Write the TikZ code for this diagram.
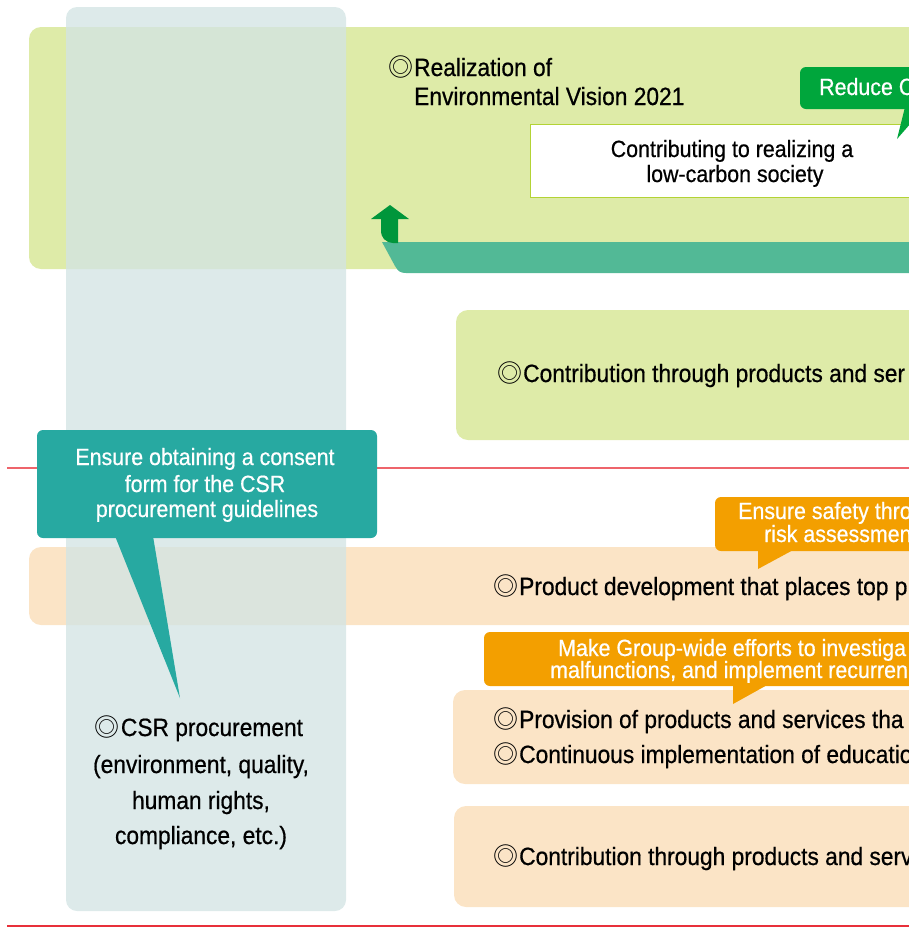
\documentclass[tikz,border=0pt]{standalone}
\usepackage{fontspec}
\setmainfont{Liberation Sans}[FakeStretch=0.91,FakeBold=0.6]
\newfontfamily\symfont{Noto Sans CJK JP}
\newcommand\dcirc{\makebox[26pt][l]{\symfont\fontsize{25}{25}\selectfont ◎}}
\definecolor{bandgreen}{HTML}{DEEBA8}
\definecolor{bandorange}{HTML}{FBE4C6}
\definecolor{calteal}{HTML}{27A9A1}
\definecolor{calorange}{HTML}{F39F00}
\definecolor{calgreen}{HTML}{00A63C}
\definecolor{arrowgreen}{HTML}{00963B}
\definecolor{bandteal}{HTML}{52B996}
\definecolor{boxline}{HTML}{B3D335}
\definecolor{colblue}{HTML}{D3E4E4}
\definecolor{redline}{HTML}{E8303A}
\begin{document}
\begin{tikzpicture}[x=1pt,y=-1pt,
  band/.style={rounded corners=12pt},
  btxt/.style={anchor=base west, inner sep=0pt, font=\fontsize{25}{30}\selectfont},
  ctxt/.style={anchor=base, inner sep=0pt, font=\fontsize{25}{30}\selectfont},
  wtxt/.style={anchor=base, inner sep=0pt, text=white, font=\fontsize{23.5}{28}\selectfont},
  wltxt/.style={anchor=base west, inner sep=0pt, text=white, font=\fontsize{23.5}{28}\selectfont},
  callout/.style={rounded corners=6pt}]
\useasboundingbox (0,0) rectangle (909,930);
\clip (0,0) rectangle (909,930);

% red rules
\draw[redline!75, line width=1.2pt] (7,468) -- (909,468);
\draw[redline, line width=1.5pt] (7,926) -- (909,926);

% top green band
\fill[bandgreen, band] (29,27) rectangle (940,269);
% teal band and arrow
\fill[bandteal] (382,242) -- (940,242) -- (940,273) -- (406,273)
   .. controls (400,273) and (398,271) .. (395,266) -- cycle;
\fill[arrowgreen] (371,219) -- (390,205) -- (409,219) -- (398,219) -- (398,243)
   -- (393,243) .. controls (385,242) and (381,238) .. (381,230) -- (381,219) -- cycle;
% white box
\node[draw=boxline, line width=1pt, fill=white, minimum width=410pt, minimum height=73pt,
  anchor=north west, inner sep=0pt] (wbox) at (530,124) {};
\node[ctxt, font=\fontsize{23.5}{28}\selectfont] (wb1) at (732,157) {Contributing to realizing a};
\node[ctxt, font=\fontsize{23.5}{28}\selectfont] (wb2) at (735,182) {low-carbon society};
% Reduce callout
\fill[calgreen, callout] (800,67) rectangle (940,109);
\fill[calgreen] (905,107) -- (897,139) -- (925,107) -- cycle;
\node[wltxt] (red) at (819,95) {Reduce C};
% title
\node[btxt, anchor=base west] (t1) at (388,76) {\dcirc Realization of};
\node[btxt] (t2) at (414,105) {Environmental Vision 2021};

% second green box
\fill[bandgreen, band] (456,310) rectangle (940,440);
\node[btxt] (g2) at (497,382) {\dcirc Contribution through products and ser};

% orange band
\fill[bandorange, band] (29,547) rectangle (940,625);
\node[btxt] (o1) at (493,595) {\dcirc Product development that places top p};

% orange box 3
\fill[bandorange, band] (453,690) rectangle (940,784);
\node[btxt] (o2) at (493,728) {\dcirc Provision of products and services tha};
\node[btxt] (o3) at (493,763) {\dcirc Continuous implementation of educatio};

% orange box 4
\fill[bandorange, band] (454,806) rectangle (940,907);
\node[btxt] (o4) at (493,865) {\dcirc Contribution through products and serv};

% orange callout 1
\fill[calorange, callout] (715,497) rectangle (940,551);
\fill[calorange] (758,549) -- (758,569) -- (795,549) -- cycle;
\node[wltxt] (c1a) at (738,519) {Ensure safety thro};
\node[wltxt] (c1b) at (764,542) {risk assessmen};

% orange callout 2
\fill[calorange, callout] (484,632) rectangle (940,686);
\fill[calorange] (733,684) -- (733,704) -- (769,684) -- cycle;
\node[wltxt] (c2a) at (558,656) {Make Group-wide efforts to investiga};
\node[wltxt] (c2b) at (550,678) {malfunctions, and implement recurren};

% column
\fill[colblue, opacity=0.78, rounded corners=11pt] (66,7) rectangle (346,911);

% teal callout
\fill[calteal, callout] (37,430) rectangle (377,538);
\fill[calteal] (115,536) -- (180,698) -- (153,536) -- cycle;
\node[wtxt] (tc1) at (205,465) {Ensure obtaining a consent};
\node[wtxt] (tc2) at (205,492) {form for the CSR};
\node[wtxt] (tc3) at (207,517) {procurement guidelines};

% CSR text
\node[ctxt] (csr1) at (199,736) {\dcirc CSR procurement};
\node[ctxt] (csr2) at (201,773) {(environment, quality,};
\node[ctxt] (csr3) at (201,809) {human rights,};
\node[ctxt] (csr4) at (201,844) {compliance, etc.)};
\end{tikzpicture}
\end{document}
